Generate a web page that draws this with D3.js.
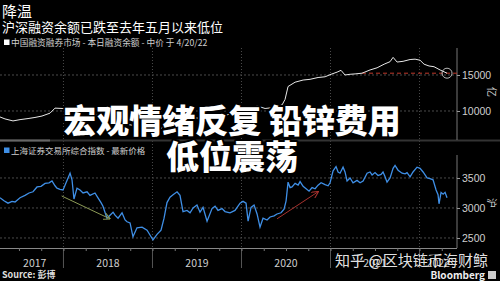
<!DOCTYPE html>
<html>
<head>
<meta charset="utf-8">
<script src="https://cdn.jsdelivr.net/npm/d3@7"></script>
<style>
  body { margin: 0; background: #000; }
  svg { display: block; font-family: "Noto Sans CJK SC", "Noto Sans", sans-serif; }
</style>
</head>
<body>
<svg id="chart" width="500" height="281"></svg>
<script>
// decimal year, value (亿元)
var marginDates = [2017.287,2017.343,2017.433,2017.512,2017.602,2017.680,2017.759,2017.849,2017.905,2017.984,
  2018.051,2018.186,2018.321,2018.467,2018.613,2018.781,2018.950,2019.062,2019.175,2019.253,2019.399,2019.534,
  2019.669,2019.815,2019.950,2020.074,2020.175,2020.265,2020.377,2020.456,2020.489,2020.523,2020.602,2020.692,
  2020.770,2020.860,2020.939,2021.006,2021.074,2021.118,2021.163,2021.220,2021.276,2021.354,2021.444,2021.523,
  2021.602,2021.669,2021.703,2021.748,2021.815,2021.894,2021.950,2022.006,2022.051,2022.107,2022.163,2022.231,2022.309];
var marginValues = [9170,8900,8620,8800,8950,9100,9300,9700,10400,10350,
  10280,9950,9650,9000,8400,8000,7400,7100,8600,9450,9100,9000,
  9050,9400,9800,10200,10700,10350,10500,10850,11600,13400,14000,14300,
  14400,14650,14750,15100,15400,15650,15000,15100,15150,15250,15700,16000,
  16500,16850,17450,16800,16900,17150,17200,17050,16500,16250,16150,15700,15250];

// 上证综指
var indexDates = [2017.287,2017.332,2017.377,2017.422,2017.456,2017.512,2017.568,2017.613,2017.658,2017.703,
  2017.748,2017.793,2017.838,2017.871,2017.905,2017.927,2017.961,2017.995,2018.029,2018.074,2018.096,2018.118,
  2018.152,2018.186,2018.220,2018.265,2018.298,2018.354,2018.388,2018.422,2018.444,2018.489,2018.523,2018.557,
  2018.579,2018.613,2018.658,2018.692,2018.714,2018.748,2018.781,2018.826,2018.883,2018.939,2018.972,2019.006,
  2019.051,2019.096,2019.130,2019.163,2019.197,2019.231,2019.276,2019.309,2019.343,2019.388,2019.422,2019.456,
  2019.500,2019.534,2019.568,2019.613,2019.669,2019.703,2019.736,2019.781,2019.815,2019.871,2019.927,2019.984,
  2020.017,2020.051,2020.074,2020.107,2020.141,2020.175,2020.208,2020.242,2020.287,2020.321,2020.366,2020.399,
  2020.444,2020.478,2020.501,2020.523,2020.546,2020.568,2020.602,2020.636,2020.658,2020.692,2020.726,2020.759,
  2020.793,2020.827,2020.860,2020.894,2020.939,2020.973,2020.995,2021.029,2021.062,2021.085,2021.107,2021.141,
  2021.163,2021.186,2021.220,2021.253,2021.298,2021.332,2021.366,2021.411,2021.444,2021.467,2021.500,2021.534,
  2021.568,2021.590,2021.613,2021.635,2021.669,2021.703,2021.725,2021.759,2021.804,2021.838,2021.860,2021.894,
  2021.927,2021.972,2022.006,2022.040,2022.085,2022.118,2022.152,2022.186,2022.208,2022.219,2022.242,2022.265,
  2022.287,2022.309];
var indexValues = [3170,3120,3080,3110,3100,3170,3210,3250,3270,3350,
  3360,3410,3420,3450,3370,3330,3310,3300,3420,3580,3470,3150,
  3330,3300,3250,3270,3210,3250,3170,3090,3030,2830,2880,2930,
  2880,2830,2920,2800,2770,2750,2520,2670,2680,2630,2550,2470,
  2560,2630,2830,3090,3180,3220,3270,3210,2940,2960,2920,3000,
  3050,2930,3010,2780,2990,3030,2960,2990,2940,2920,2960,3080,
  3110,3080,2780,3010,3050,2900,2680,2830,2800,2850,2870,2900,
  2920,2980,3120,3430,3340,3350,3410,3380,3440,3360,3320,3280,
  3340,3320,3380,3420,3390,3370,3420,3620,3690,3600,3580,3680,
  3600,3450,3500,3420,3460,3420,3450,3580,3600,3550,3590,3540,
  3560,3600,3520,3430,3500,3660,3710,3630,3580,3570,3590,3520,
  3600,3680,3660,3600,3500,3490,3470,3300,3220,3070,3260,3230,
  3260,3170];

var years = [2017, 2018, 2019, 2020, 2021, 2022];
var topTicks = [10000, 15000];
var bottomTicks = [2500, 3000, 3500];
var mayLevel = 15250, mayStart = 2021.354;
var downArrow = [[2017.98, 3200], [2018.52, 2820]];
var upArrow = [[2020.40, 2820], [2020.86, 3270]];

var svg = d3.select("#chart");
var W = 457;

var x = d3.scaleLinear().domain([2017.287, 2022.421]).range([0, W]);
var yTop = d3.scaleLinear().domain([5970, 18750]).range([140, 48]);
var yBot = d3.scaleLinear().domain([2333, 3883]).range([248, 155]);

var grid = "#4a4a4a", txt = "#cfcfcf";

// titles
svg.append("text").attr("x", 2).attr("y", 16.5).attr("fill", "#fff").style("font-size", "15px").text("降温");
svg.append("text").attr("x", 2).attr("y", 32).attr("fill", "#fff").style("font-size", "13px").text("沪深融资余额已跌至去年五月以来低位");

// legends
svg.append("rect").attr("x", 4).attr("y", 39.5).attr("width", 5.5).attr("height", 5.5).attr("fill", "#fff");
svg.append("text").attr("x", 11).attr("y", 45.5).attr("fill", txt).style("font-size", "8.7px")
  .text("中国融资融券市场 - 本日融资余额 - 中价 于 4/20/22");
svg.append("rect").attr("x", 4).attr("y", 147.5).attr("width", 5.5).attr("height", 5.5).attr("fill", "#3f8fe6");
svg.append("text").attr("x", 11).attr("y", 153.5).attr("fill", txt).style("font-size", "8.5px")
  .text("上海证券交易所综合指数 - 最新价格");

// year dividers
var yearStarts = years.slice(1);
svg.selectAll(".ydiv").data(yearStarts).enter().append("line")
  .attr("x1", d => x(d)).attr("x2", d => x(d)).attr("y1", 48).attr("y2", 248)
  .attr("stroke", grid).attr("stroke-dasharray", "1,2");
svg.selectAll(".ydivb").data(yearStarts).enter().append("line")
  .attr("x1", d => x(d)).attr("x2", d => x(d)).attr("y1", 248).attr("y2", 268)
  .attr("stroke", "#555");

// horizontal grids
svg.selectAll(".gt").data(topTicks).enter().append("line")
  .attr("x1", 0).attr("x2", W).attr("y1", d => yTop(d)).attr("y2", d => yTop(d))
  .attr("stroke", grid).attr("stroke-dasharray", "2,2");
svg.selectAll(".gb").data(bottomTicks).enter().append("line")
  .attr("x1", 0).attr("x2", W).attr("y1", d => yBot(d)).attr("y2", d => yBot(d))
  .attr("stroke", grid).attr("stroke-dasharray", "2,2");

// panel separator
svg.append("line").attr("x1", 0).attr("x2", 500).attr("y1", 140.5).attr("y2", 140.5).attr("stroke", "#333").attr("stroke-width", 2);
svg.append("line").attr("x1", 0).attr("x2", 50).attr("y1", 140.5).attr("y2", 140.5).attr("stroke", "#666").attr("stroke-width", 2);

// right axes
svg.append("g").attr("transform", "translate(" + W + ",0)")
  .call(d3.axisRight(yTop).tickValues(topTicks).tickSize(3).tickFormat(d3.format("d")))
  .call(g => g.select(".domain").attr("d", "M0,48V140").attr("stroke", "#777"))
  .call(g => g.selectAll("line").attr("stroke", "#999"))
  .call(g => g.selectAll("text").attr("fill", txt).style("font-size", "10.5px").attr("x", 5));
svg.append("g").attr("transform", "translate(" + W + ",0)")
  .call(d3.axisRight(yBot).tickValues(bottomTicks).tickSize(3).tickFormat(d3.format("d")))
  .call(g => g.select(".domain").attr("d", "M0,155V248").attr("stroke", "#777"))
  .call(g => g.selectAll("line").attr("stroke", "#999"))
  .call(g => g.selectAll("text").attr("fill", txt).style("font-size", "10.5px").attr("x", 5));

svg.append("text").attr("transform", "translate(488,92) rotate(90)").attr("fill", txt)
  .attr("text-anchor", "middle").style("font-size", "10px").text("亿");
svg.append("text").attr("transform", "translate(488,203) rotate(90)").attr("fill", txt)
  .attr("text-anchor", "middle").style("font-size", "10px").text("沪");

// bottom x axis with quarterly ticks
var quarters = d3.range(2017.5, 2022.3, 0.25);
svg.append("g").attr("transform", "translate(0,248)")
  .call(d3.axisBottom(x).tickValues(quarters).tickSize(3).tickFormat(""))
  .call(g => g.select(".domain").attr("d", "M0,0.5H" + W).attr("stroke", "#888"))
  .call(g => g.selectAll("line").attr("stroke", "#777"));

var yearMid = years.map(function(yr) {
  var a = Math.max(yr, x.domain()[0]), b = Math.min(yr + 1, x.domain()[1]);
  return { y: yr, m: (a + b) / 2 };
});
svg.selectAll(".ylab").data(yearMid).enter().append("text")
  .attr("x", d => x(d.m) + (d.y === 2017 ? 3 : 0)).attr("y", 267).attr("text-anchor", "middle")
  .attr("fill", txt).style("font-size", "10.5px").text(d => d.y);

// lines
var topData = marginDates.map((d, i) => [d, marginValues[i]]);
var botData = indexDates.map((d, i) => [d, indexValues[i]]);

svg.append("line").attr("x1", x(mayStart)).attr("x2", W).attr("y1", yTop(mayLevel)).attr("y2", yTop(mayLevel))
  .attr("stroke", "#c0392b").attr("stroke-dasharray", "4,3").attr("stroke-width", 1);

svg.append("path").datum(topData)
  .attr("d", d3.line().x(d => x(d[0])).y(d => yTop(d[1])))
  .attr("fill", "none").attr("stroke", "#e8e8e8").attr("stroke-width", 1);

svg.append("path").datum(botData)
  .attr("d", d3.line().x(d => x(d[0])).y(d => yBot(d[1])))
  .attr("fill", "none").attr("stroke", "#3f8fe6").attr("stroke-width", 1.3);

var last = topData[topData.length - 1];
svg.append("circle").attr("cx", x(last[0])).attr("cy", yTop(last[1])).attr("r", 5)
  .attr("fill", "none").attr("stroke", "#bbb").attr("stroke-width", 1);

// arrows
var defs = svg.append("defs");
function marker(id, col) {
  defs.append("marker").attr("id", id).attr("viewBox", "0 0 10 10").attr("refX", 9).attr("refY", 5)
    .attr("markerWidth", 7).attr("markerHeight", 7).attr("orient", "auto")
    .append("path").attr("d", "M0,0L10,5L0,10").attr("fill", "none").attr("stroke", col).attr("stroke-width", 1.5);
}
marker("ag", "#8c9a55");
marker("ar", "#a8322e");
svg.append("line").attr("x1", x(downArrow[0][0])).attr("y1", yBot(downArrow[0][1]))
  .attr("x2", x(downArrow[1][0])).attr("y2", yBot(downArrow[1][1]))
  .attr("stroke", "#8c9a55").attr("stroke-width", 1).attr("marker-end", "url(#ag)");
svg.append("line").attr("x1", x(upArrow[0][0])).attr("y1", yBot(upArrow[0][1]))
  .attr("x2", x(upArrow[1][0])).attr("y2", yBot(upArrow[1][1]))
  .attr("stroke", "#a8322e").attr("stroke-width", 1).attr("marker-end", "url(#ar)");

// footer
svg.append("text").attr("x", 2).attr("y", 278).attr("fill", "#ddd").style("font-size", "9px")
  .style("font-weight", "bold").text("Source: 彭博");
svg.append("text").attr("x", 485).attr("y", 279).attr("text-anchor", "end").attr("fill", "#eee")
  .style("font-size", "10px").style("font-weight", "bold").text("Bloomberg");
svg.append("rect").attr("x", 488).attr("y", 271).attr("width", 8).attr("height", 8).attr("fill", "#ccc");

// watermark
svg.append("text").attr("x", 335).attr("y", 266).attr("fill", "rgba(255,255,255,0.9)")
  .style("font-size", "15px").attr("textLength", 153).attr("lengthAdjust", "spacingAndGlyphs")
  .text("知乎 @区块链币海财鲸");

// overlay headline
var head = svg.append("g").attr("text-anchor", "middle")
  .style("font-size", "33px").style("font-weight", 900);
[["宏观情绪反复 铅锌费用", 133], ["低位震荡", 169]].forEach(function(t) {
  head.append("text").attr("x", 232).attr("y", t[1]).attr("fill", "#fff")
    .attr("stroke", "#000").attr("stroke-width", 4).attr("paint-order", "stroke")
    .attr("stroke-linejoin", "round").text(t[0]);
});
</script>
</body>
</html>
